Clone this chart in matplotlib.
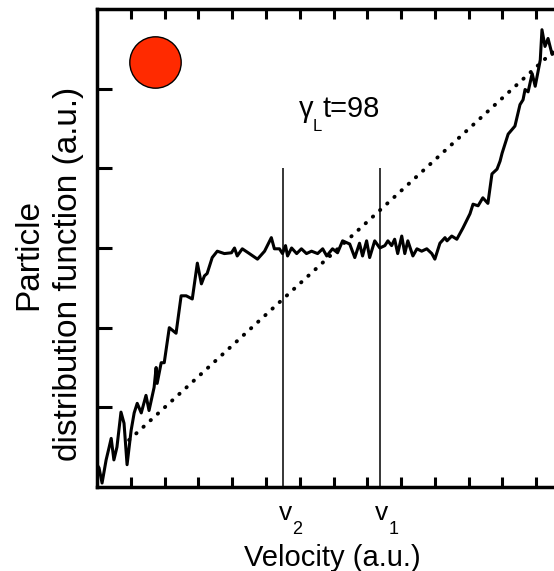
import matplotlib.pyplot as plt

plt.rcParams['font.family'] = ['Liberation Sans', 'DejaVu Sans']

# particle distribution at gamma_L t = 98
vel = [0.00, 0.06, 0.15, 0.27, 0.36, 0.42, 0.50, 0.59, 0.71, 0.80, 0.89, 1.01, 1.10, 1.19,
       1.31, 1.45, 1.54, 1.69, 1.75, 1.78, 1.90, 1.99, 2.14, 2.34, 2.49, 2.64, 2.82, 2.97,
       3.09, 3.18, 3.26, 3.41, 3.56, 3.77, 3.98, 4.07, 4.15, 4.30, 4.51, 4.75, 4.96, 5.16,
       5.25, 5.40, 5.49, 5.58, 5.64, 5.76, 5.91, 6.05, 6.20, 6.35, 6.53, 6.68, 6.80, 6.97,
       7.12, 7.27, 7.48, 7.63, 7.77, 7.86, 7.98, 8.07, 8.22, 8.37, 8.52, 8.61, 8.72, 8.81,
       8.90, 9.02, 9.11, 9.20, 9.35, 9.47, 9.61, 9.76, 9.91, 10.00, 10.15, 10.30, 10.36,
       10.50, 10.65, 10.83, 11.04, 11.13, 11.28, 11.42, 11.57, 11.69, 11.84, 11.93, 11.99,
       12.17, 12.37, 12.52, 12.61, 12.67, 12.76, 12.88, 12.97, 13.12, 13.17, 13.26, 13.35,
       13.47, 13.59]
dist = [0.28, 0.24, 0.05, 0.34, 0.50, 0.61, 0.34, 0.50, 0.94, 0.80, 0.28, 0.71, 0.93, 1.05,
        0.93, 1.15, 0.96, 1.25, 1.50, 1.30, 1.56, 1.56, 2.00, 1.93, 2.40, 2.40, 2.36, 2.81,
        2.55, 2.65, 2.68, 2.88, 2.96, 2.93, 2.94, 3.00, 2.90, 2.99, 2.93, 2.86, 2.96, 3.13,
        2.99, 2.99, 2.93, 3.03, 2.90, 3.00, 2.93, 2.99, 2.93, 2.96, 2.93, 2.99, 2.90, 2.99,
        2.94, 3.09, 3.05, 2.88, 3.06, 2.90, 3.09, 2.88, 3.09, 3.00, 3.03, 3.09, 3.03, 3.11,
        2.93, 3.15, 2.93, 3.09, 2.90, 2.99, 2.96, 2.99, 2.93, 2.86, 3.06, 3.13, 3.09,
        3.15, 3.11, 3.25, 3.43, 3.55, 3.53, 3.63, 3.56, 3.93, 3.99, 4.09, 4.19,
        4.43, 4.53, 4.80, 4.86, 4.99, 4.96, 5.19, 5.03, 5.36, 5.74, 5.53, 5.63,
        5.43, 5.46]

# initial distribution (straight dotted line)
init_vel = [0.95, 14.0]
init_dist = [0.59, 5.66]

# resonant velocities
v_pos = [5.52, 8.37]
v_subs = ['2', '1']
v_top = 4.0

fig = plt.figure(figsize=(5.54, 5.71), dpi=100)
ax = fig.add_axes([97 / 554, 84 / 571, 473 / 554, 478 / 571])

ax.plot(vel, dist, color='black', lw=2.2, solid_joinstyle='round')
ax.plot(init_vel, init_dist, color='black', lw=2.8, linestyle=(0, (0.1, 2.4)),
        dash_capstyle='round')
ax.vlines(v_pos, 0, v_top, color='black', lw=1.1)

ax.plot([1.72], [5.33], marker='o', markersize=37, markerfacecolor='#ff2a00',
        markeredgecolor='black', markeredgewidth=1.0, linestyle='none')

# gamma_L t=98
ax.text(5.98, 4.64, 'γ', fontsize=21, ha='left', va='baseline')
ax.text(6.38, 4.47, 'L', fontsize=12, ha='left', va='baseline')
ax.text(6.68, 4.64, 't=98', fontsize=21, ha='left', va='baseline')

ax.set_xlim(0, 14)
ax.set_ylim(0, 6)

for s in ax.spines.values():
    s.set_linewidth(2.5)

ax.set_xticks(range(1, 14))
ax.set_yticks(range(1, 6))
ax.tick_params(axis='x', which='major', direction='in', top=True, bottom=True,
               length=7, width=2.2, labelbottom=False)
ax.tick_params(axis='y', which='major', direction='in', left=True, right=False,
               length=11, width=2.2, labelleft=False)

for xp, sub in zip(v_pos, v_subs):
    ax.text(xp - 0.13, -0.42, 'v', fontsize=19, ha='left', va='baseline')
    ax.text(xp + 0.25, -0.59, sub, fontsize=13, ha='left', va='baseline')

ax.text(6.97, -0.99, 'Velocity (a.u.)', fontsize=21, ha='center', va='baseline')
ax.text(-2.01, 2.92, 'Particle', fontsize=24, rotation=90, ha='center', va='center')
ax.text(-0.85, 2.67, 'distribution function (a.u.)', fontsize=24, rotation=90,
        ha='center', va='center')

fig.savefig('out.png', dpi=100)
